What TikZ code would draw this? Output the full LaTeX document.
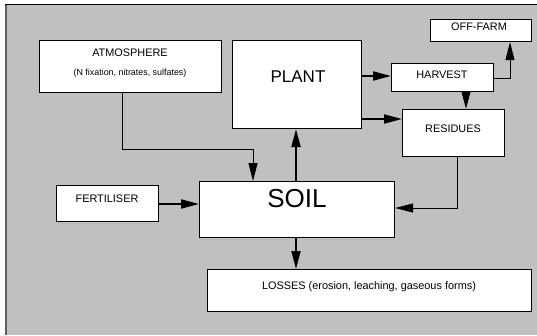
\documentclass[tikz,border=0pt]{standalone}
\usepackage{fontspec}
\setmainfont{Liberation Sans}
\usetikzlibrary{arrows.meta,calc}
\definecolor{bggray}{HTML}{C0C0C0}
\definecolor{edgegray}{HTML}{606060}
\tikzset{
  box/.style={draw=black,line width=1.1pt,fill=white,rectangle,inner sep=0pt},
  lbl/.style={inner sep=0pt,font=\fontsize{10.9}{12}\selectfont},
  thickflow/.style={line width=2pt,-{Triangle[length=18pt,width=9pt]}},
  thinflow/.style={line width=1pt,-{Triangle[length=18pt,width=9pt]}},
}
\newcommand{\mybox}[3]{% name, (x1,y1), (x2,y2)
  \path let \p1=#2, \p2=#3 in node[box,minimum width=\x2-\x1,minimum height=\y1-\y2,anchor=north west] (#1) at #2 {};
}
\begin{document}
\begin{tikzpicture}[x=1pt,y=-1pt]
\useasboundingbox (0,0) rectangle (537,335);
\fill[white] (0,0) rectangle (537,335);
\fill[bggray] (6,4) rectangle (537,335);
\draw[edgegray,line width=2pt] (6,4) -- (6,335);
\draw[black,line width=1pt] (5,4.5) -- (537,4.5);
% boxes
\mybox{atm}{(39,40)}{(221,92)}
\mybox{plant}{(232,40)}{(361,128)}
\mybox{harvest}{(391,63)}{(493,91)}
\mybox{offfarm}{(430,19)}{(531,41)}
\mybox{residues}{(402,109)}{(504,156)}
\mybox{fert}{(56,185)}{(158,221)}
\mybox{soil}{(199,181)}{(394,237)}
\mybox{losses}{(207,269)}{(531,311)}
% texts
\node[lbl] (tatm) at (130,53) {ATMOSPHERE};
\node[lbl,font=\fontsize{8.9}{10}\selectfont] (tatm2) at (130,73) {(N fixation, nitrates, sulfates)};
\node[lbl,font=\fontsize{17}{20}\selectfont] (tplant) at (298,77) {PLANT};
\node[lbl] (tharvest) at (442,75) {HARVEST};
\node[lbl] (toff) at (479,27) {OFF-FARM};
\node[lbl] (tres) at (453,129) {RESIDUES};
\node[lbl] (tfert) at (107,199) {FERTILISER};
\node[lbl,font=\fontsize{26}{30}\selectfont] (tsoil) at (297,199) {SOIL};
\node[lbl] (tloss) at (369,287) {LOSSES (erosion, leaching, gaseous forms)};
% connectors
\coordinate (a1) at (122,149);
\coordinate (a2) at (253,149);
\draw[thinflow] (atm.south -| a1) |- (a2) -- (soil.north -| a2);
\coordinate (p1) at (0,76);
\draw[thickflow] (plant.east |- p1) -- (harvest.west |- p1);
\coordinate (p2) at (0,119);
\draw[thickflow] (plant.east |- p2) -- (residues.west |- p2);
\coordinate (h1) at (466,0);
\draw[thickflow] (harvest.south -| h1) -- (residues.north -| h1);
\coordinate (h2) at (510,78);
\draw[thinflow] (harvest.east |- h2) -| (offfarm.south -| h2);
\coordinate (r1) at (457,208);
\draw[thinflow] (residues.south -| r1) |- (soil.east |- r1);
\coordinate (s1) at (296,0);
\draw[thickflow] (soil.north -| s1) -- (plant.south -| s1);
\coordinate (f1) at (0,204);
\draw[thickflow] (fert.east |- f1) -- (soil.west |- f1);
\draw[thickflow] (soil.south -| s1) -- (losses.north -| s1);
\end{tikzpicture}
\end{document}
